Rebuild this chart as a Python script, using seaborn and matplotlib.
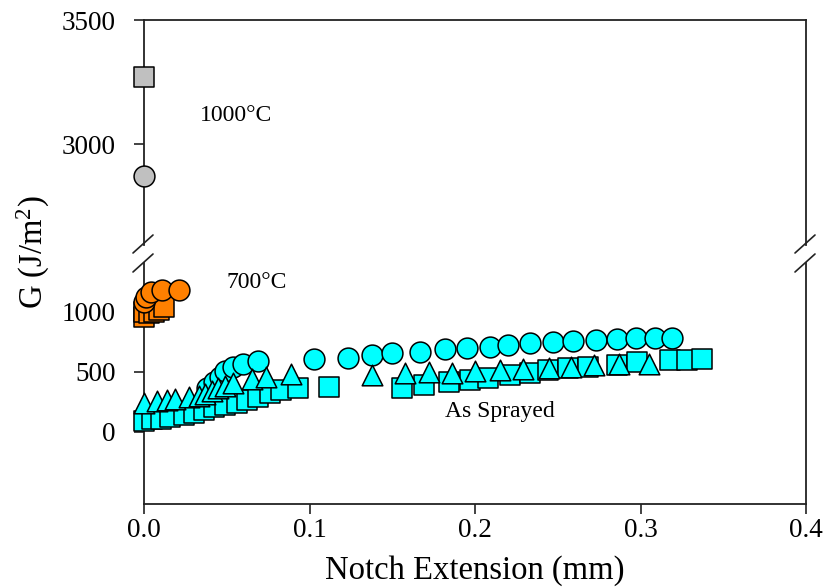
import matplotlib
matplotlib.use("Agg")
import matplotlib.pyplot as plt
from matplotlib.lines import Line2D
import seaborn as sns
import pandas as pd

# ---- data: notch extension (mm) vs. strain energy release rate G (J/m^2) ----
as_circle_x = [0.038, 0.042, 0.046, 0.049, 0.054, 0.060, 0.069, 0.103, 0.123, 0.138, 0.150, 0.167,
               0.182, 0.195, 0.209, 0.220, 0.233, 0.247, 0.259, 0.273, 0.286, 0.297, 0.309, 0.319]
as_circle_g = [370, 420, 460, 505, 545, 570, 595, 608, 617, 642, 658, 667,
               692, 700, 708, 725, 742, 750, 758, 767, 775, 780, 783, 785]

as_tri_x = [0.000, 0.008, 0.014, 0.019, 0.027, 0.033, 0.037, 0.041, 0.045, 0.049, 0.054, 0.065, 0.074,
            0.089, 0.138, 0.158, 0.172, 0.186, 0.200, 0.215, 0.229, 0.245, 0.258, 0.272, 0.287, 0.305]
as_tri_g = [240, 260, 270, 278, 288, 300, 318, 340, 365, 385, 405, 440, 458,
            483, 475, 492, 500, 495, 508, 517, 525, 533, 542, 558, 567, 570]

as_sq_x = [0.000, 0.005, 0.010, 0.016, 0.024, 0.030, 0.036, 0.042, 0.049, 0.056, 0.062, 0.069, 0.076,
           0.083, 0.093, 0.112, 0.156, 0.169, 0.184, 0.197, 0.208, 0.221, 0.233, 0.244, 0.256, 0.268,
           0.286, 0.298, 0.318, 0.328, 0.337]
as_sq_g = [95, 110, 105, 125, 140, 160, 180, 205, 225, 242, 267, 292, 325,
           350, 367, 375, 367, 392, 417, 433, 450, 475, 492, 517, 533, 542,
           558, 583, 600, 600, 608]

t700_circle_x = [0.000, 0.001, 0.004, 0.011, 0.021]
t700_circle_g = [1085, 1125, 1165, 1180, 1185]
t700_sq_x = [0.000, 0.000, 0.003, 0.006, 0.009, 0.012]
t700_sq_g = [960, 1000, 990, 1000, 1015, 1045]

t1000_circle_x = [0.000]
t1000_circle_g = [2870]
t1000_sq_x = [0.000]
t1000_sq_g = [3270]

x_ticks = [0.0, 0.1, 0.2, 0.3, 0.4]
y_ticks_low = [0, 500, 1000]
y_ticks_high = [3000, 3500]

sns.set_style("ticks")
plt.rcParams["font.family"] = ["Liberation Serif", "DejaVu Serif"]
plt.rcParams["mathtext.fontset"] = "custom"
plt.rcParams["mathtext.rm"] = "Liberation Serif"
plt.rcParams["mathtext.it"] = "Liberation Serif:italic"
plt.rcParams["text.color"] = "black"
plt.rcParams["axes.labelcolor"] = "black"

W, H = 826, 588
fig = plt.figure(figsize=(W / 100, H / 100), dpi=100)


def fx(px):
    return px / W


def fy(py):
    return 1 - py / H


left, right = 144, 806
ax_hi = fig.add_axes([fx(left), fy(245), fx(right - left), (245 - 20) / H])
ax_lo = fig.add_axes([fx(left), fy(504), fx(right - left), (504 - 263) / H])

cyan, orange, grey = "#00FFFF", "#FF8000", "#C0C0C0"
sizes = {"o": 225, "s": 200, "^": 220}


def draw(ax, xs, gs, marker, color, z):
    df = pd.DataFrame({"x": xs, "G": gs})
    sns.scatterplot(data=df, x="x", y="G", ax=ax, marker=marker, color=color,
                    s=sizes[marker], edgecolor="black", linewidth=1.1, legend=False,
                    clip_on=False, zorder=z)


# lower panel: as sprayed and 700 °C
draw(ax_lo, as_circle_x, as_circle_g, "o", cyan, 3)
draw(ax_lo, as_sq_x, as_sq_g, "s", cyan, 4)
draw(ax_lo, as_tri_x, as_tri_g, "^", cyan, 5)
draw(ax_lo, t700_sq_x, t700_sq_g, "s", orange, 4)
draw(ax_lo, t700_circle_x, t700_circle_g, "o", orange, 5)

# upper panel: 1000 °C
draw(ax_hi, t1000_sq_x, t1000_sq_g, "s", grey, 4)
draw(ax_hi, t1000_circle_x, t1000_circle_g, "o", grey, 3)

for ax in (ax_hi, ax_lo):
    ax.set_xlim(0, 0.4)
    ax.set_xlabel("")
    ax.set_ylabel("")
    for sp in ax.spines.values():
        sp.set_linewidth(1.3)
        sp.set_color("#222222")
    ax.tick_params(axis="both", direction="out", length=7, width=1.2,
                   labelsize=19.5, colors="#222222", labelcolor="black")
    ax.tick_params(axis="y", pad=13.5)

ax_hi.set_ylim(2593, 3500)
ax_hi.set_yticks(y_ticks_high)
ax_hi.spines["bottom"].set_visible(False)
ax_hi.tick_params(axis="x", bottom=False, labelbottom=False)

ax_lo.set_ylim(-600, 1408)
ax_lo.set_yticks(y_ticks_low)
ax_lo.set_xticks(x_ticks)
ax_lo.set_xticklabels([f"{t:.1f}" for t in x_ticks])
ax_lo.spines["top"].set_visible(False)
ax_lo.tick_params(axis="x", pad=3)
ax_lo.set_xlabel("Notch Extension (mm)", fontsize=23.5, labelpad=9)

fig.text(fx(33), fy(252), "G (J/m$^{2}$)", rotation=90, fontsize=23.5,
         ha="center", va="center")

# treatment labels
ax_hi.text(0.034, 3117, "1000°C", fontsize=17, ha="left", va="center")
ax_lo.text(0.050, 1242, "700°C", fontsize=17, ha="left", va="center")
ax_lo.text(0.182, 167, "As Sprayed", fontsize=17, ha="left", va="center")

# axis-break slashes on both vertical spines
for xs in (left, right):
    for y0 in (253, 272):
        fig.add_artist(Line2D([fx(xs - 11), fx(xs + 9)], [fy(y0), fy(y0 - 18)],
                              color="#222222", linewidth=1.2))

fig.savefig("out.png", dpi=100)
